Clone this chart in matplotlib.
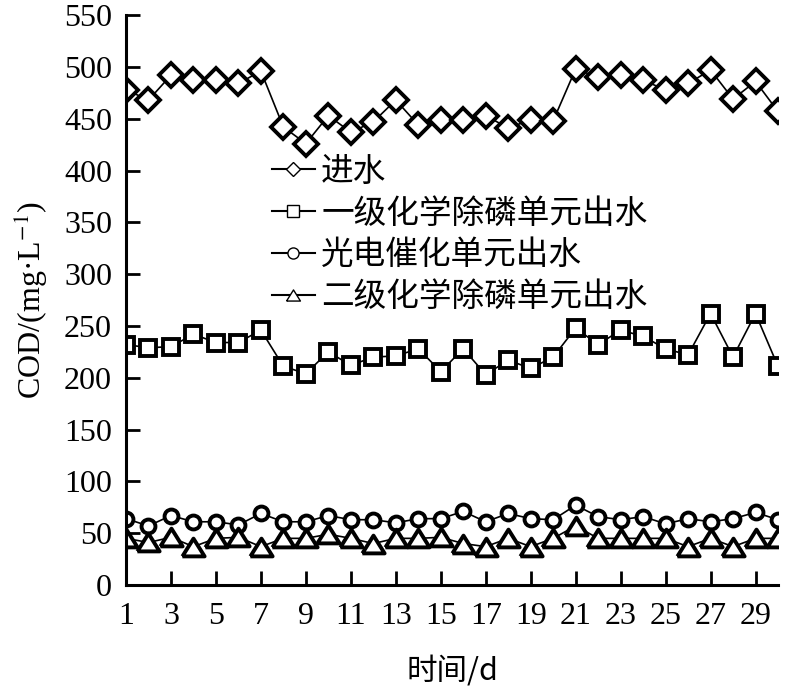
import matplotlib
matplotlib.use("Agg")
import matplotlib.pyplot as plt
from matplotlib.lines import Line2D

days = list(range(1, 31))
influent = [478, 468, 492, 487, 487, 484, 496, 442, 426, 453,
            437, 447, 468, 444, 449, 449, 453, 441, 449, 448,
            498, 490, 492, 487, 478, 484, 497, 469, 486, 457]
primary = [232, 229, 230, 242, 234, 234, 246, 211, 204, 225,
           212, 220, 221, 228, 206, 228, 203, 217, 209, 220,
           248, 232, 246, 240, 228, 222, 262, 220, 262, 211]
photo = [64, 57, 67, 61, 61, 58, 69, 61, 61, 67,
         63, 63, 60, 64, 64, 71, 61, 69, 64, 63,
         77, 66, 63, 66, 59, 64, 61, 64, 70, 63]
secondary = [45, 41, 46, 37, 45, 46, 37, 45, 45, 49,
             45, 40, 45, 45, 46, 40, 37, 45, 37, 45,
             57, 45, 45, 45, 45, 37, 45, 37, 45, 45]
labels = ["进水", "一级化学除磷单元出水", "光电催化单元出水", "二级化学除磷单元出水"]
yticks = list(range(0, 551, 50))
xticks = list(range(1, 30, 2))

plt.rcParams['font.family'] = ['Liberation Serif', 'Noto Sans CJK SC']
plt.rcParams['mathtext.fontset'] = 'stix'

fig = plt.figure(figsize=(8, 6.87), dpi=100)
ax = fig.add_axes([0.1575, 0.1485, 0.815, 0.8295])

tri = [(-1, -0.8), (1, -0.8), (0, 0.8), (-1, -0.8)]
styles = [
    dict(marker='D', ms=12, mew=2.8),
    dict(marker='s', ms=11.5, mew=2.8),
    dict(marker='o', ms=10, mew=2.8),
    dict(marker=tri, ms=16, mew=2.8),
]
series = [influent, primary, photo, secondary]
for s, st in zip(series, styles):
    ax.plot(days, s, color='black', lw=1.2, mfc='white', mec='black', **st)

ax.set_xlim(1, 30)
ax.set_ylim(0, 550)
ax.set_xticks(xticks)
ax.set_yticks(yticks)
ax.tick_params(direction='in', length=10, width=2, labelsize=23)
ax.tick_params(axis='x', pad=12)
ax.tick_params(axis='y', pad=10)
for side in ['top', 'right']:
    ax.spines[side].set_visible(False)
for side in ['left', 'bottom']:
    ax.spines[side].set_linewidth(2.2)

ax.set_ylabel('COD/(mg·L$^{-1}$)', fontsize=23, labelpad=10)
ax.set_xlabel('时间/d', fontsize=22, labelpad=18,
              family=['Noto Sans CJK SC', 'Liberation Serif'])

leg_styles = [
    dict(marker='D', ms=7, mew=1.0),
    dict(marker='s', ms=8, mew=1.0),
    dict(marker='o', ms=8, mew=1.0),
    dict(marker=tri, ms=10, mew=1.0),
]
handles = [Line2D([], [], color='black', lw=1.5, mfc='white', mec='black', **st)
           for st in leg_styles]
ax.legend(handles, labels, loc='upper left', bbox_to_anchor=(0.179, 0.805),
          frameon=False, handlelength=1.3, handletextpad=0.2, labelspacing=0.3,
          prop={'family': ['Noto Sans CJK SC'], 'size': 23.5})

fig.savefig('out.png', dpi=100)
